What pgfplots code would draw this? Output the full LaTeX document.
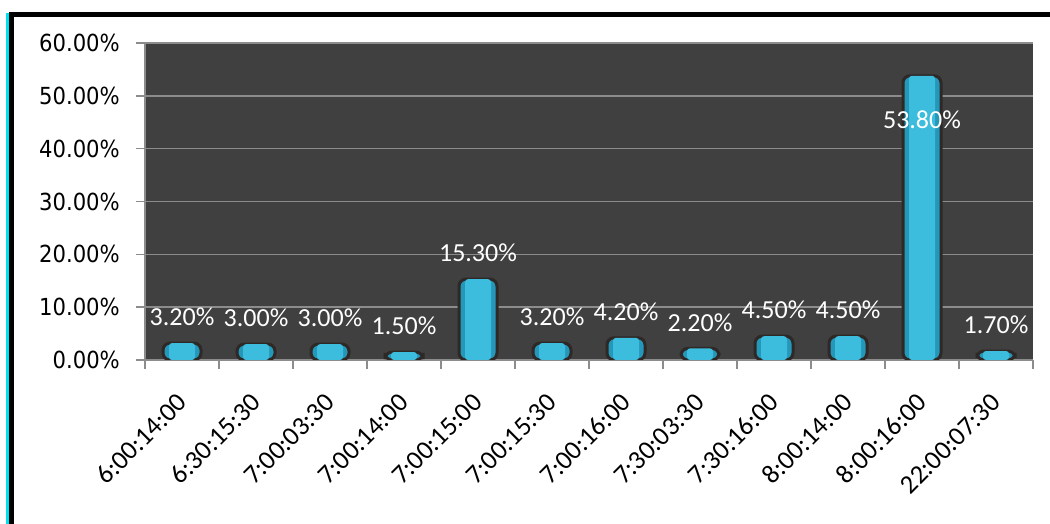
\documentclass[border=0pt]{standalone}
\usepackage{fontspec}
\setmainfont{Carlito}
\newfontfamily\ylabfont{DejaVu Sans Condensed}
\usepackage{pgfplots}
\pgfplotsset{compat=1.18}
\definecolor{plotbg}{HTML}{404040}
\definecolor{gridc}{HTML}{8C8C8C}
\definecolor{bardark}{HTML}{2598BA}
\definecolor{barlight}{HTML}{3CBDDE}
\definecolor{edgec}{HTML}{2E2826}
\definecolor{cyanline}{HTML}{00E0F0}
\begin{document}
\begin{tikzpicture}[x=1pt,y=1pt]
\useasboundingbox (0,0) rectangle (1050,524);
\fill[white] (0,0) rectangle (1050,524);
\begin{axis}[
  at={(145pt,164pt)}, anchor=south west,
  scale only axis, width=888pt, height=317pt,
  ybar, bar width=38pt, bar shift=0pt,
  xmin=-0.5, xmax=11.5, ymin=0, ymax=60,
  axis background/.style={fill=plotbg},
  axis x line*=bottom, axis y line*=left,
  axis line style={gridc, line width=1.5pt},
  ymajorgrids, grid style={gridc, line width=1.5pt},
  tick align=outside, major tick length=9pt,
  tick style={gridc, line width=1.5pt},
  ytick={0,10,...,60},
  yticklabels={0.00\%,10.00\%,20.00\%,30.00\%,40.00\%,50.00\%,60.00\%},
  yticklabel style={font=\ylabfont\fontsize{23.5}{23.5}\selectfont, inner sep=0pt, xshift=-16pt},
  xtick={-0.5,0.5,...,11.5},
  xticklabels={},
  extra x ticks={0,1,2,3,4,5,6,7,8,9,10,11},
  extra x tick labels={6:00:14:00,6:30:15:30,7:00:03:30,7:00:14:00,7:00:15:00,7:00:15:30,7:00:16:00,7:30:03:30,7:30:16:00,8:00:14:00,8:00:16:00,22:00:07:30},
  extra x tick style={major tick length=0pt, xticklabel style={font=\fontsize{26.5}{26.5}\selectfont, inner sep=0pt, yshift=-38pt, rotate=45, anchor=east}},
  /pgf/number format/assume math mode=true,
  nodes near coords={\pgfmathprintnumber[fixed,fixed zerofill,precision=2]{\pgfplotspointmeta}\%},
  every node near coord/.append style={font=\fontsize{26}{26}\selectfont, text=white, anchor=center, inner sep=0pt, yshift=26pt},
]
\addplot[fill=bardark, draw=edgec, line width=3pt, rounded corners=7pt, nodes near coords=\empty] coordinates {
(0,3.2) (1,3.0) (2,3.0) (3,1.5) (4,15.3) (5,3.2) (6,4.2) (7,2.2) (8,4.5) (9,4.5) (10,53.8) (11,1.7)};
\addplot[bar width=26pt, fill=barlight, draw=none, rounded corners=3pt, nodes near coords=\empty] coordinates {
(0,3.2) (1,3.0) (2,3.0) (3,1.5) (4,15.3) (5,3.2) (6,4.2) (7,2.2) (8,4.5) (9,4.5) (10,53.8) (11,1.7)};
\addplot[draw=none, fill=none] coordinates {
(0,3.2) (1,3.0) (2,3.0) (3,1.5) (4,15.3) (5,3.2) (6,4.2) (7,2.2) (8,4.5) (9,4.5) (11,1.7)};
\addplot[draw=none, fill=none, every node near coord/.append style={yshift=-70pt}] coordinates {(10,53.8)};
\end{axis}
\draw[black, line width=5pt] (9,509.5) -- (1050,509.5);
\draw[black, line width=5pt] (11.5,512) -- (11.5,0);
\draw[cyanline, line width=3pt] (7.5,511) -- (7.5,0);
\end{tikzpicture}
\end{document}
